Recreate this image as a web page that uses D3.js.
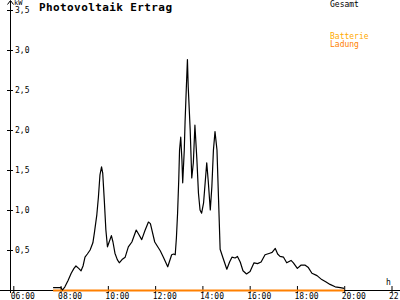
<!DOCTYPE html>
<html>
<head>
<meta charset="utf-8">
<script src="https://cdn.jsdelivr.net/npm/d3@7"></script>
<style>
  html, body { margin: 0; padding: 0; background: #fff; }
  svg { display: block; }
  text { font-family: "DejaVu Sans Mono", "Liberation Mono", monospace; }
</style>
</head>
<body>
<script>
// Gesamt (kW)
var gesamtTimes = ["07:41","08:01","08:05","08:11","08:19","08:27","08:34","08:39","08:46","08:52",
  "08:57","09:02","09:08","09:15","09:22","09:26","09:32","09:36","09:40","09:44",
  "09:47","09:51","09:55","09:59","10:04","10:09","10:13","10:18","10:24","10:29",
  "10:36","10:44","10:52","11:01","11:12","11:19","11:26","11:34","11:43","11:48",
  "11:59","12:13","12:21","12:32","12:42","12:47","12:51","12:54","12:57","13:00",
  "13:02","13:05","13:08","13:10","13:14","13:16","13:19","13:22","13:24","13:29",
  "13:33","13:37","13:41","13:46","13:50","13:54","13:58","14:03","14:07","14:11",
  "14:15","14:20","14:24","14:28","14:32","14:37","14:41","14:45","14:53","15:02",
  "15:09","15:15","15:23","15:29","15:36","15:43","15:52","16:01","16:11","16:20",
  "16:29","16:39","16:51","16:57","17:05","17:11","17:17","17:26","17:34","17:45",
  "17:51","18:01","18:10","18:21","18:29","18:38","18:51","19:03","19:14","19:24",
  "19:37","19:50","20:00"];
var gesamtValues = [0.03,0.03,0.00,0.04,0.12,0.21,0.27,0.30,0.27,0.24,
  0.30,0.41,0.45,0.50,0.59,0.72,0.94,1.16,1.44,1.54,
  1.46,1.12,0.75,0.54,0.61,0.68,0.60,0.46,0.38,0.34,
  0.38,0.41,0.54,0.60,0.75,0.69,0.63,0.74,0.85,0.83,
  0.60,0.49,0.41,0.29,0.44,0.45,0.44,0.65,0.96,1.38,
  1.75,1.91,1.63,1.34,1.75,2.10,2.50,2.88,2.54,2.00,
  1.40,1.59,2.06,1.63,1.21,1.00,0.96,1.09,1.34,1.59,
  1.35,1.00,1.29,1.75,1.98,1.75,1.13,0.51,0.39,0.26,
  0.35,0.41,0.40,0.42,0.35,0.24,0.20,0.23,0.34,0.33,
  0.35,0.44,0.46,0.47,0.52,0.45,0.42,0.41,0.34,0.37,
  0.34,0.27,0.31,0.31,0.28,0.21,0.18,0.13,0.10,0.07,
  0.04,0.03,0.02];

// Batterie Ladung (kW)
var ladungTimes = ["07:41","20:00"];
var ladungValues = [0, 0];

var xTickLabels = ["06:00","08:00","10:00","12:00","14:00","16:00","18:00","20:00","22:00"];
var yTickValues = [0.5, 1.0, 1.5, 2.0, 2.5, 3.0, 3.5];

var W = 400, H = 300;
var parse = d3.timeParse("%H:%M");

var gesamt = gesamtTimes.map(function(t, i){ return {t: parse(t), v: gesamtValues[i]}; });
var ladung = ladungTimes.map(function(t, i){ return {t: parse(t), v: ladungValues[i]}; });

var x = d3.scaleTime()
    .domain([parse("06:00"), parse("22:00")])
    .range([13.3, 391.5]);
var y = d3.scaleLinear()
    .domain([0, 3.5])
    .range([290, 10]);

var svg = d3.select("body").append("svg")
    .attr("width", W)
    .attr("height", H);

// baseline and y axis line
svg.append("line")
    .attr("x1", 0).attr("x2", W)
    .attr("y1", 290.5).attr("y2", 290.5)
    .attr("stroke", "#000");
svg.append("line")
    .attr("x1", 10.5).attr("x2", 10.5)
    .attr("y1", 1).attr("y2", 293)
    .attr("stroke", "#000");
// arrow at the top of the y axis
svg.append("path")
    .attr("d", "M7.5,4.5 L10.5,0.5 L13.5,4.5")
    .attr("fill", "none")
    .attr("stroke", "#000");

// x axis ticks + labels
var xAxis = d3.axisBottom(x)
    .tickValues(xTickLabels.map(parse))
    .tickFormat(d3.timeFormat("%H:%M"))
    .tickSizeOuter(0);
var gx = svg.append("g")
    .attr("transform", "translate(0,290)")
    .call(xAxis);
gx.select(".domain").remove();
gx.selectAll(".tick line")
    .attr("y1", -4).attr("y2", 3)
    .attr("stroke", "#000");
gx.selectAll(".tick text")
    .attr("y", 3)
    .attr("x", -3)
    .attr("dy", "0.71em")
    .attr("text-anchor", "start")
    .attr("font-size", 8)
    .attr("font-family", "DejaVu Sans Mono")
    .attr("fill", "#000");

// y axis ticks + labels
var yAxis = d3.axisRight(y)
    .tickValues(yTickValues)
    .tickFormat(function(d){ return d3.format(".1f")(d).replace(".", ","); })
    .tickSizeOuter(0);
var gy = svg.append("g")
    .attr("transform", "translate(10,0)")
    .call(yAxis);
gy.select(".domain").remove();
gy.selectAll(".tick line")
    .attr("x1", -3).attr("x2", 3)
    .attr("stroke", "#000");
gy.selectAll(".tick text")
    .attr("x", 5)
    .attr("dy", "0.35em")
    .attr("font-size", 8)
    .attr("font-family", "DejaVu Sans Mono")
    .attr("fill", "#000");

// unit labels
svg.append("text")
    .attr("x", 14).attr("y", 5)
    .attr("font-size", 7)
    .text("kW");
svg.append("text")
    .attr("x", 386).attr("y", 285)
    .attr("font-size", 8)
    .text("h");

// title
svg.append("text")
    .attr("x", 39).attr("y", 10.5)
    .attr("font-size", 11)
    .attr("font-weight", "bold")
    .attr("textLength", 133)
    .text("Photovoltaik Ertrag");

// legend
svg.append("text")
    .attr("x", 330).attr("y", 7)
    .attr("font-size", 8)
    .attr("fill", "#000")
    .text("Gesamt");
svg.append("text")
    .attr("x", 330).attr("y", 38.5)
    .attr("font-size", 8)
    .attr("fill", "#ffaa00")
    .text("Batterie");
svg.append("text")
    .attr("x", 330).attr("y", 47)
    .attr("font-size", 8)
    .attr("fill", "#ff8000")
    .text("Ladung");

var line = d3.line()
    .x(function(d){ return x(d.t); })
    .y(function(d){ return y(d.v); });

// Batterie Ladung (orange, along the baseline)
svg.append("path")
    .datum(ladung)
    .attr("d", line)
    .attr("fill", "none")
    .attr("stroke", "#ff8000")
    .attr("stroke-width", 2)
    .attr("transform", "translate(0,0.5)");

// Gesamt
svg.append("path")
    .datum(gesamt)
    .attr("d", line)
    .attr("fill", "none")
    .attr("stroke", "#000")
    .attr("stroke-width", 1.2)
    .attr("stroke-linejoin", "round");
</script>
</body>
</html>
